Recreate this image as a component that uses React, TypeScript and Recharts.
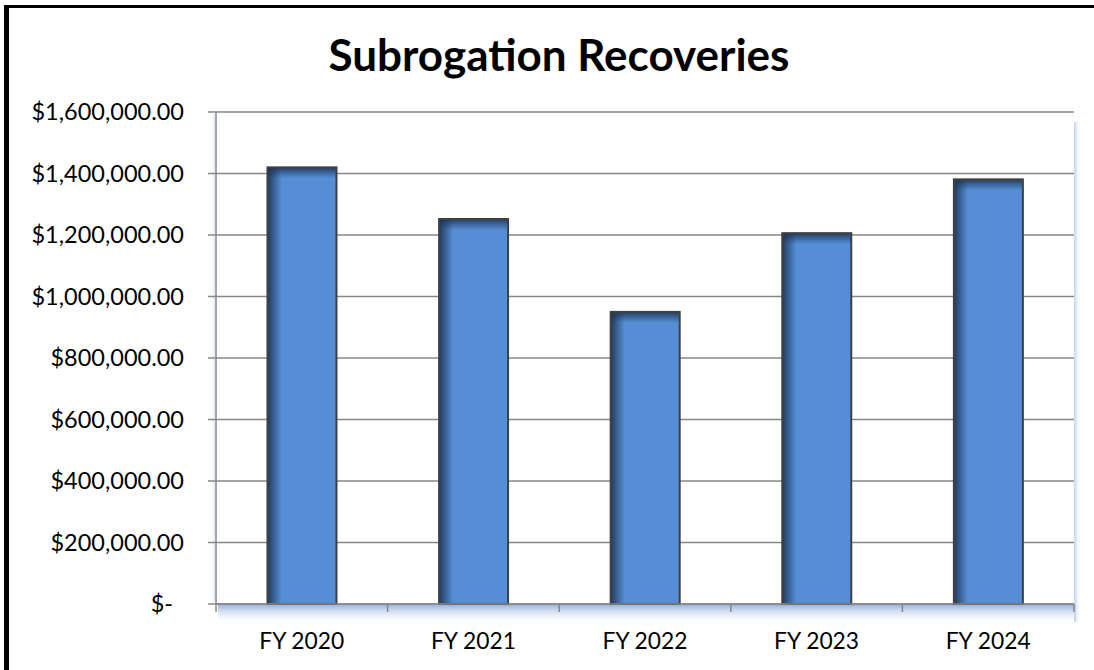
import React from "react";
import * as R from "recharts";
import { BarChart, Bar, XAxis, YAxis, CartesianGrid } from "recharts";

const categories = ["FY 2020", "FY 2021", "FY 2022", "FY 2023", "FY 2024"];
const recoveries = [1420000, 1252000, 950000, 1206000, 1381000];
const yTicks = [0, 200000, 400000, 600000, 800000, 1000000, 1200000, 1400000, 1600000];
const title = "Subrogation Recoveries";

const data = categories.map((c, i) => ({ year: c, value: recoveries[i] }));

const FONT = "Lato, 'Open Sans', sans-serif";
const GRID = "#878787";

const fmt = (v: number) =>
  v === 0 ? "$-" : "$" + v.toLocaleString("en-US", { minimumFractionDigits: 2, maximumFractionDigits: 2 });

const YTick = (props: any) => {
  const { x, y, payload } = props;
  const v = payload.value as number;
  return (
    <text x={v === 0 ? x - 11 : x} y={y + 8} textAnchor="end" fontSize={23.5} fontFamily={FONT} fill="#000">
      {fmt(v)}
    </text>
  );
};

const XTick = (props: any) => {
  const { x, y, payload } = props;
  return (
    <text x={x} y={y + 43} textAnchor="middle" fontSize={22.8} fontFamily={FONT} fill="#000">
      {payload.value}
    </text>
  );
};

const BarShape = (props: any) => {
  const { x, y, width, height, index } = props;
  if (!width || !height) return null;
  const lid = `ls${index}`;
  const tid = `ts${index}`;
  return (
    <g>
      <defs>
        <linearGradient id={lid} x1="0" y1="0" x2="1" y2="0">
          <stop offset="0%" stopColor="#1c3150" stopOpacity={0.9} />
          <stop offset="100%" stopColor="#1c3150" stopOpacity={0} />
        </linearGradient>
        <linearGradient id={tid} x1="0" y1="0" x2="0" y2="1">
          <stop offset="0%" stopColor="#1c3150" stopOpacity={0.85} />
          <stop offset="100%" stopColor="#1c3150" stopOpacity={0} />
        </linearGradient>
      </defs>
      <rect x={x} y={y} width={width} height={height} fill="#558ED5" />
      <rect x={x} y={y} width={Math.min(14, width)} height={height} fill={`url(#${lid})`} />
      <rect x={x} y={y} width={width} height={Math.min(11, height)} fill={`url(#${tid})`} />
      <rect x={x} y={y} width={width} height={height} fill="none" stroke="#404040" strokeWidth={2} />
    </g>
  );
};

const Decor = () => {
  const anyR: any = R;
  const area = anyR.usePlotArea ? anyR.usePlotArea() : null;
  const left = area ? area.x : 216;
  const top = area ? area.y : 112;
  const w = area ? area.width : 858;
  const h = area ? area.height : 492;
  const bottom = top + h;
  const n = categories.length;
  return (
    <g>
      <defs>
        <linearGradient id="axShade" x1="0" y1="0" x2="0" y2="1">
          <stop offset="0%" stopColor="#8aa8d8" stopOpacity={0.95} />
          <stop offset="100%" stopColor="#ffffff" stopOpacity={0} />
        </linearGradient>
        <linearGradient id="rShade" x1="0" y1="0" x2="1" y2="0">
          <stop offset="0%" stopColor="#b9cbe8" stopOpacity={0.9} />
          <stop offset="100%" stopColor="#ffffff" stopOpacity={0} />
        </linearGradient>
        <linearGradient id="lShade" x1="1" y1="0" x2="0" y2="0">
          <stop offset="0%" stopColor="#dbe4f3" stopOpacity={0.9} />
          <stop offset="100%" stopColor="#ffffff" stopOpacity={0} />
        </linearGradient>
      </defs>
      <rect x={left + 2} y={bottom} width={w} height={20} fill="url(#axShade)" />
      <rect x={left + w} y={top + 10} width={7} height={h + 8} fill="url(#rShade)" />
      <rect x={left - 6} y={top + 2} width={5} height={h - 4} fill="url(#lShade)" />
      {Array.from({ length: n + 1 }).map((_, i) => {
        const tx = left + (i * w) / n;
        return <line key={i} x1={tx} x2={tx} y1={bottom} y2={bottom + 8} stroke={GRID} strokeWidth={1.5} />;
      })}
    </g>
  );
};

export default function App() {
  return (
    <div style={{ position: "absolute", left: 0, top: 0, width: 1094, height: 670, overflow: "hidden", background: "#fff" }}>
      <div style={{ position: "absolute", left: 4, top: 5, width: 5, height: 665, background: "#000" }} />
      <div style={{ position: "absolute", left: 4, top: 5, width: 1090, height: 3, background: "#000" }} />
      <div style={{ position: "absolute", left: 0, top: 0 }}>
        <BarChart
          width={1094}
          height={670}
          data={data}
          margin={{ top: 112, right: 20, bottom: 0, left: 0 }}
          barCategoryGap="30%"
        >
          <Decor />
          <CartesianGrid vertical={false} stroke={GRID} strokeWidth={1.5} />
          <XAxis
            dataKey="year"
            height={66}
            tickLine={false}
            tickSize={0}
            axisLine={{ stroke: GRID, strokeWidth: 1.5 }}
            tick={<XTick />}
            interval={0}
          />
          <YAxis
            width={216}
            domain={[0, 1600000]}
            ticks={yTicks}
            interval={0}
            tickSize={8}
            tickMargin={24}
            tickLine={{ stroke: GRID, strokeWidth: 1.5 }}
            axisLine={{ stroke: GRID, strokeWidth: 1.5 }}
            tick={<YTick />}
          />
          <Bar dataKey="value" isAnimationActive={false} shape={<BarShape />} />
          <text x={559} y={71} textAnchor="middle" fontSize={44} fontWeight={700} fontFamily={FONT} fill="#000">
            {title}
          </text>
        </BarChart>
      </div>
    </div>
  );
}
